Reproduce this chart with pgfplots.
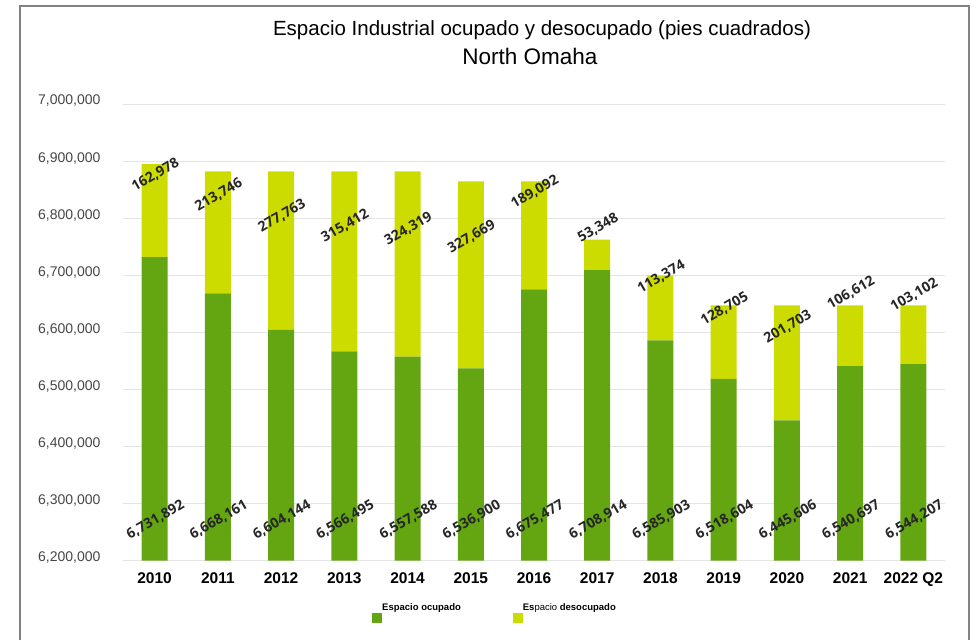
\documentclass[border=0pt]{standalone}
\usepackage{pgfplots}
\pgfplotsset{compat=1.18}
\usepackage{pgfplotstable}
\usepackage{fontspec}
\setmainfont{Liberation Sans}
\newfontfamily\opensans{Open Sans}
\definecolor{ocup}{RGB}{99,166,18}
\definecolor{desoc}{RGB}{205,220,0}
\definecolor{gridc}{RGB}{228,228,228}
\definecolor{ticklab}{RGB}{70,70,70}
\definecolor{frame}{RGB}{130,130,130}

\pgfplotstableread{
x ocup desoc
0 6731892 162978
1 6668161 213746
2 6604144 277763
3 6566495 315412
4 6557588 324319
5 6536900 327669
6 6675477 189092
7 6708914 53348
8 6585903 113374
9 6518604 128705
10 6445606 201703
11 6540697 106612
12 6544207 103102
}\datatable

\pgfplotstableread{
x y label
0 6271000 6,731,892
1 6271000 6,668,161
2 6271000 6,604,144
3 6271000 6,566,495
4 6271000 6,557,588
5 6271000 6,536,900
6 6271000 6,675,477
7 6271000 6,708,914
8 6271000 6,585,903
9 6271000 6,518,604
10 6271000 6,445,606
11 6271000 6,540,697
12 6271000 6,544,207
}\labelsocup

\pgfplotstableread{
x y label
0 6875000 162,978
1 6840000 213,746
2 6803000 277,763
3 6785000 315,412
4 6780000 324,319
5 6766000 327,669
6 6845000 189,092
7 6782000 53,348
8 6696000 113,374
9 6640000 128,705
10 6608000 201,703
11 6668000 106,612
12 6664000 103,102
}\labelsdesoc

\begin{document}
\begin{tikzpicture}
\useasboundingbox (0,0) rectangle (977pt,640pt);
\draw[frame, line width=1.3pt] (20pt,0pt) -- (20pt,634pt) -- (969pt,634pt) -- (969pt,0pt);
\node[font=\fontsize{20.5}{24}\selectfont] at (542pt,610pt) {Espacio Industrial ocupado y desocupado (pies cuadrados)};
\node[font=\fontsize{22.5}{26}\selectfont] at (530pt,584pt) {North Omaha};

\begin{axis}[
  at={(123pt,79.3pt)}, anchor=south west,
  scale only axis, width=822pt, height=456.7pt,
  ybar stacked, bar width=26pt,
  xmin=-0.5, xmax=12.5, ymin=6200000, ymax=7000000,
  xtick={0,...,12},
  xticklabels={2010,2011,2012,2013,2014,2015,2016,2017,2018,2019,2020,2021,2022 Q2},
  ytick={6200000,6300000,6400000,6500000,6600000,6700000,6800000,6900000,7000000},
  scaled y ticks=false,
  /pgf/number format/fixed,
  /pgf/number format/1000 sep={,},
  /pgf/number format/assume math mode=true,
  yticklabel style={font=\fontsize{14}{16}\selectfont, text=ticklab, xshift=-19pt, yshift=3pt},
  xticklabel style={font=\fontsize{15.5}{18}\selectfont\bfseries, yshift=-8pt},
  axis line style={draw=none},
  major tick length=0pt,
  ymajorgrids, grid style={gridc, line width=0.8pt},
  legend columns=2,
  legend style={at={(0.2993,-0.09)}, anchor=north west, draw=none, fill=none,
    font=\fontsize{9.5}{11}\selectfont\bfseries,
    nodes={inner sep=0pt},
    /tikz/every even column/.append style={column sep=52pt}},
  legend image code/.code={\fill[#1] (0pt,-15pt) rectangle (10pt,-5pt);},
]
\addplot[fill=ocup, draw=none] table[x=x, y=ocup] {\datatable};
\addlegendentry{Espacio ocupado}
\addplot[fill=desoc, draw=none] table[x=x, y=desoc] {\datatable};
\addlegendentry{Es{\mdseries pacio} desocupado}
\end{axis}

\begin{axis}[
  at={(123pt,79.3pt)}, anchor=south west,
  scale only axis, width=822pt, height=456.7pt,
  xmin=-0.5, xmax=12.5, ymin=6200000, ymax=7000000,
  hide axis, clip=false,
  nodes near coords,
  point meta=explicit symbolic,
  nodes near coords style={anchor=center, rotate=30, font=\opensans\bfseries\fontsize{14}{16}\selectfont, text=black!85, xshift=1pt},
]
\addplot[only marks, mark=none] table[x=x, y=y, meta=label] {\labelsocup};
\addplot[only marks, mark=none] table[x=x, y=y, meta=label] {\labelsdesoc};
\end{axis}
\end{tikzpicture}
\end{document}
